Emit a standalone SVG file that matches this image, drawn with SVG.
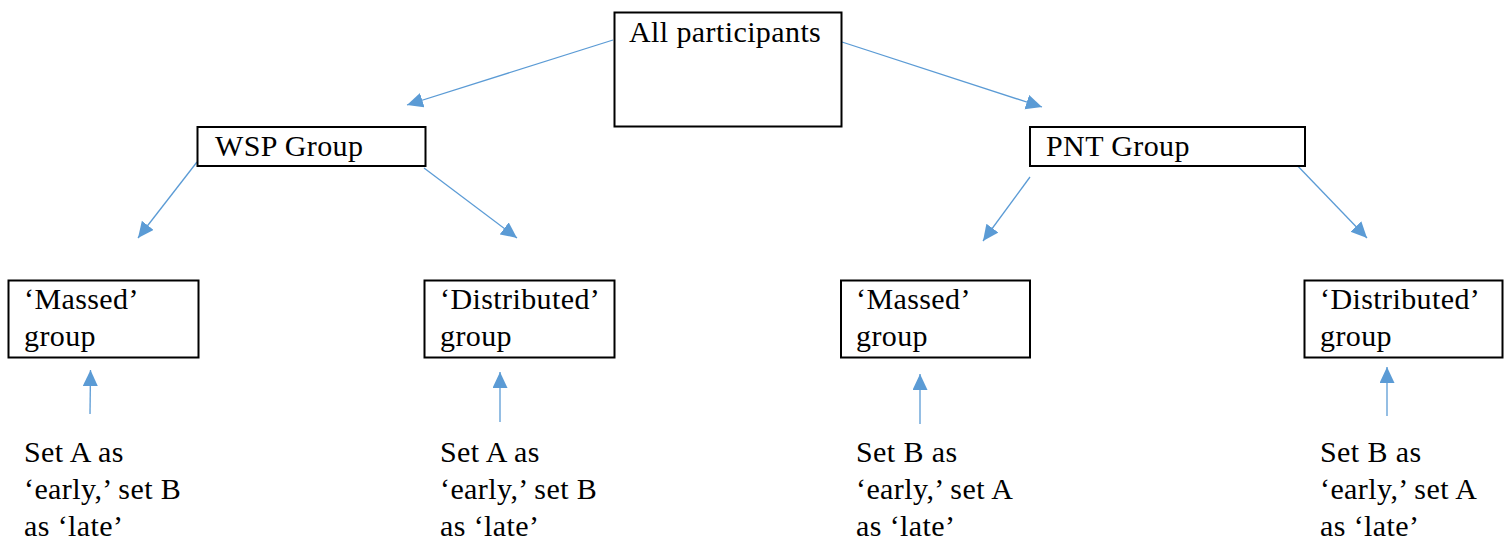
<svg xmlns="http://www.w3.org/2000/svg" width="1507" height="540" viewBox="0 0 1507 540">
<style>
.box{fill:#fff;stroke:#000;stroke-width:2}
.t{font-family:"Liberation Serif","DejaVu Serif",serif;font-size:30px;letter-spacing:0.4px;fill:#000}
.c{stroke:#5B9BD5;stroke-width:1.3;fill:none}
</style>
<defs>
<marker id="ah" markerUnits="userSpaceOnUse" markerWidth="18" markerHeight="16" refX="16" refY="7.5" orient="auto" viewBox="0 0 18 16">
<path d="M0,0 L16,7.5 L0,15 z" fill="#5B9BD5"/>
</marker>
</defs>
<rect width="1507" height="540" fill="#fff"/>
<g id="connectors">
<line class="c" x1="613" y1="40" x2="407" y2="105" marker-end="url(#ah)"/>
<line class="c" x1="842" y1="42" x2="1042" y2="107" marker-end="url(#ah)"/>
<line class="c" x1="197" y1="162" x2="138" y2="238" marker-end="url(#ah)"/>
<line class="c" x1="424" y1="168" x2="517" y2="238" marker-end="url(#ah)"/>
<line class="c" x1="1030" y1="177" x2="983" y2="241" marker-end="url(#ah)"/>
<line class="c" x1="1292" y1="160" x2="1367" y2="238" marker-end="url(#ah)"/>
<line class="c" x1="90" y1="414" x2="90.5" y2="370" marker-end="url(#ah)"/>
<line class="c" x1="500" y1="422" x2="500" y2="372" marker-end="url(#ah)"/>
<line class="c" x1="920" y1="424" x2="920" y2="374" marker-end="url(#ah)"/>
<line class="c" x1="1387" y1="416" x2="1387" y2="367" marker-end="url(#ah)"/>
</g>
<g id="all">
<rect class="box" x="614.5" y="12.5" width="227" height="114"/>
<text class="t" x="629" y="42">All participants</text>
</g>
<g id="wsp">
<rect class="box" x="197.5" y="127" width="228" height="39"/>
<text class="t" x="215" y="156">WSP Group</text>
</g>
<g id="pnt">
<rect class="box" x="1030" y="127" width="275" height="39"/>
<text class="t" x="1046" y="156">PNT Group</text>
</g>
<g id="massed1">
<rect class="box" x="8.5" y="280.5" width="190" height="77"/>
<text class="t" x="24" y="309">‘Massed’</text>
<text class="t" x="24" y="346">group</text>
</g>
<g id="dist1">
<rect class="box" x="424.5" y="280.5" width="190" height="77"/>
<text class="t" x="440" y="309">‘Distributed’</text>
<text class="t" x="440" y="346">group</text>
</g>
<g id="massed2">
<rect class="box" x="841" y="280.5" width="189" height="77"/>
<text class="t" x="856" y="309">‘Massed’</text>
<text class="t" x="856" y="346">group</text>
</g>
<g id="dist2">
<rect class="box" x="1304.5" y="280.5" width="198" height="77"/>
<text class="t" x="1320" y="309">‘Distributed’</text>
<text class="t" x="1320" y="346">group</text>
</g>
<g id="label1">
<text class="t" x="24" y="462">Set A as</text>
<text class="t" x="24" y="499">‘early,’ set B</text>
<text class="t" x="24" y="536">as ‘late’</text>
</g>
<g id="label2">
<text class="t" x="440" y="462">Set A as</text>
<text class="t" x="440" y="499">‘early,’ set B</text>
<text class="t" x="440" y="536">as ‘late’</text>
</g>
<g id="label3">
<text class="t" x="856" y="462">Set B as</text>
<text class="t" x="856" y="499">‘early,’ set A</text>
<text class="t" x="856" y="536">as ‘late’</text>
</g>
<g id="label4">
<text class="t" x="1320" y="462">Set B as</text>
<text class="t" x="1320" y="499">‘early,’ set A</text>
<text class="t" x="1320" y="536">as ‘late’</text>
</g>
</svg>
